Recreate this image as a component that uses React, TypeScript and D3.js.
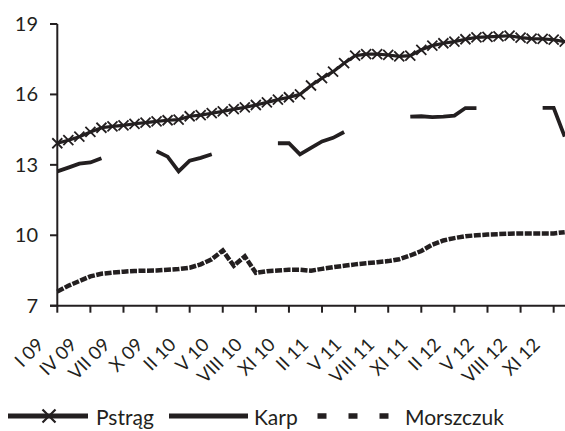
import React from 'react';
import * as d3 from 'd3';

// months (one month missing between X 09 and II 10 in the source data)
const categories = [
  'I 09', 'II 09', 'III 09', 'IV 09', 'V 09', 'VI 09', 'VII 09', 'VIII 09', 'IX 09', 'X 09', 'XI 09', 'XII 09',
  'II 10', 'III 10', 'IV 10', 'V 10', 'VI 10', 'VII 10', 'VIII 10', 'IX 10', 'X 10', 'XI 10', 'XII 10',
  'I 11', 'II 11', 'III 11', 'IV 11', 'V 11', 'VI 11', 'VII 11', 'VIII 11', 'IX 11', 'X 11', 'XI 11', 'XII 11',
  'I 12', 'II 12', 'III 12', 'IV 12', 'V 12', 'VI 12', 'VII 12', 'VIII 12', 'IX 12', 'X 12', 'XI 12', 'XII 12'
];

const tickLabels = ['I 09', 'IV 09', 'VII 09', 'X 09', 'II 10', 'V 10', 'VIII 10', 'XI 10',
  'II 11', 'V 11', 'VIII 11', 'XI 11', 'II 12', 'V 12', 'VIII 12', 'XI 12'];

const yTicks = [7, 10, 13, 16, 19];

const pstrag = [
  13.92, 14.05, 14.2, 14.4, 14.58, 14.64, 14.68, 14.75, 14.8, 14.85, 14.9, 14.93,
  15.07, 15.12, 15.2, 15.28, 15.37, 15.45, 15.55, 15.66, 15.78, 15.88, 16.0,
  16.38, 16.69, 16.97, 17.33, 17.65, 17.72, 17.72, 17.68, 17.62, 17.65, 17.9, 18.08,
  18.18, 18.25, 18.35, 18.43, 18.45, 18.47, 18.5, 18.42, 18.38, 18.37, 18.33, 18.25
];

const karp: (number | null)[] = [
  12.72, 12.88, 13.05, 13.1, 13.28, null, null, null, null, 13.58, 13.35, 12.72,
  13.18, 13.3, 13.45, null, null, null, null, null, 13.92, 13.92, 13.45,
  13.72, 14.0, 14.15, 14.4, null, null, null, null, null, 15.05, 15.07, 15.03,
  15.05, 15.1, 15.42, 15.42, null, null, null, null, null, 15.43, 15.43, 14.2
];

const morszczuk = [
  7.6, 7.85, 8.05, 8.25, 8.36, 8.41, 8.45, 8.48, 8.49, 8.5, 8.53, 8.56,
  8.62, 8.76, 8.98, 9.35, 8.7, 9.1, 8.4, 8.47, 8.5, 8.53, 8.53,
  8.49, 8.57, 8.64, 8.7, 8.76, 8.81, 8.85, 8.9, 8.98, 9.14, 9.33, 9.6,
  9.78, 9.88, 9.96, 10.0, 10.03, 10.05, 10.07, 10.08, 10.08, 10.08, 10.08, 10.13
];

const ink = '#231f20';
const font = "Lato, 'Open Sans', sans-serif";

export default function App() {
  const x = d3.scalePoint<string>().domain(categories).range([57.3, 564.7]);
  const y = d3.scaleLinear().domain([7, 19]).range([305.7, 24]);

  const line = d3.line<number | null>()
    .defined(d => d != null)
    .x((d, i) => x(categories[i]) as number)
    .y(d => y(d as number));

  const cross = (cx: number, cy: number, r: number, key: any, sw = 1.8) => (
    <path key={key} d={`M${cx - r},${cy - r}L${cx + r},${cy + r}M${cx - r},${cy + r}L${cx + r},${cy - r}`}
      stroke={ink} strokeWidth={sw} fill="none" />
  );

  return (
    <svg width={565} height={431} style={{ position: 'absolute', left: 0, top: 0, background: '#fff' }}
      fontFamily={font}>
      {/* y axis */}
      <line x1={57.3} x2={57.3} y1={24} y2={306.5} stroke={ink} strokeWidth={2} />
      {yTicks.map(t => (
        <g key={t}>
          <line x1={50} x2={57.3} y1={y(t)} y2={y(t)} stroke={ink} strokeWidth={2} />
          <text x={38} y={y(t)} dy="0.35em" textAnchor="end" fontSize={20} fill={ink}>{t}</text>
        </g>
      ))}
      {/* x axis */}
      <line x1={50} x2={565} y1={y(7)} y2={y(7)} stroke={ink} strokeWidth={2} />
      {tickLabels.map(l => (
        <g key={l}>
          <line x1={x(l)} x2={x(l)} y1={y(7)} y2={y(7) + 7} stroke={ink} strokeWidth={2} />
          <text transform={`translate(${(x(l) as number) - 12.5},346) rotate(-45)`} textAnchor="end"
            fontSize={18.5} fill={ink}>{l}</text>
        </g>
      ))}

      {/* series */}
      <path d={line(morszczuk) as string} fill="none" stroke={ink} strokeWidth={4.5} strokeDasharray="7 1.5" />
      <path d={line(karp) as string} fill="none" stroke={ink} strokeWidth={3.8} strokeLinejoin="miter" />
      <path d={line(pstrag) as string} fill="none" stroke={ink} strokeWidth={3.2} />
      {pstrag.map((v, i) => cross(x(categories[i]) as number, y(v), 5, i))}

      {/* legend */}
      <g fontSize={21} fill={ink}>
        <line x1={8} x2={88} y1={416} y2={416} stroke={ink} strokeWidth={5} />
        {cross(49, 416, 6.5, 'lx', 2.2)}
        <text x={96} y={425}>Pstrąg</text>
        <line x1={169} x2={248} y1={416} y2={416} stroke={ink} strokeWidth={5} />
        <text x={254} y={425}>Karp</text>
        <line x1={317.5} x2={390} y1={416} y2={416} stroke={ink} strokeWidth={5.5} strokeDasharray="9 22" />
        <text x={405} y={425}>Morszczuk</text>
      </g>
    </svg>
  );
}
